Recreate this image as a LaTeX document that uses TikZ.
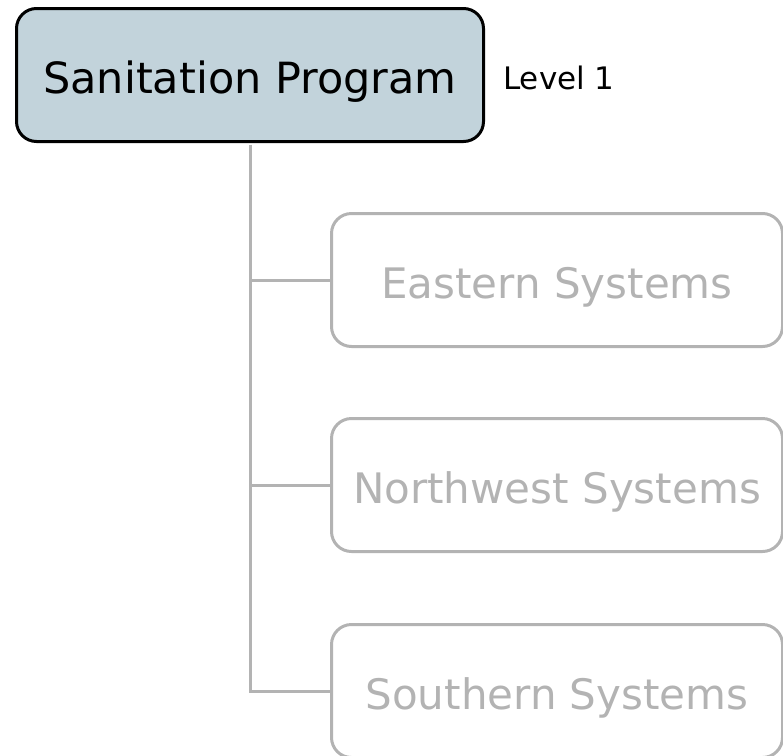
\documentclass[tikz,border=0pt]{standalone}
\usepackage{fontspec}
\setmainfont{DejaVu Sans}

\definecolor{rootfill}{RGB}{194,211,219}
\definecolor{branchgray}{RGB}{179,179,179}

\tikzset{
  rootbox/.style={draw=black,line width=3pt,fill=rootfill,rounded corners=20pt,
    minimum width=467pt,minimum height=133pt,text height=36pt,text depth=0pt,
    inner sep=0pt,font=\fontsize{43}{50}\selectfont},
  subbox/.style={draw=branchgray,line width=3pt,rounded corners=20pt,
    minimum width=451pt,minimum height=133pt,text height=36pt,text depth=0pt,
    inner sep=0pt,text=branchgray,font=\fontsize{42}{50}\selectfont},
  link/.style={draw=branchgray,line width=3pt}
}

\begin{document}
\begin{tikzpicture}[x=1pt,y=-1pt]

\useasboundingbox
(0,0)
rectangle
(783,755);

\node[rootbox] (program)
at (250,75)
{Sanitation Program};

\node[anchor=base west,inner sep=0pt,font=\fontsize{31}{36}\selectfont] (level)
at (503,89)
{Level 1};

% Systems
\node[subbox] (eastern)
at (557,280)
{Eastern Systems};

\node[subbox] (northwest)
at (557,485)
{Northwest Systems};

\node[subbox] (southern)
at (557,691)
{Southern Systems};

\draw[link,shorten <=1.5pt]
(program.south)
|-
(southern.west);

\draw[link]
(program.south |- eastern.west)
--
(eastern.west);

\draw[link]
(program.south |- northwest.west)
--
(northwest.west);

\end{tikzpicture}
\end{document}
